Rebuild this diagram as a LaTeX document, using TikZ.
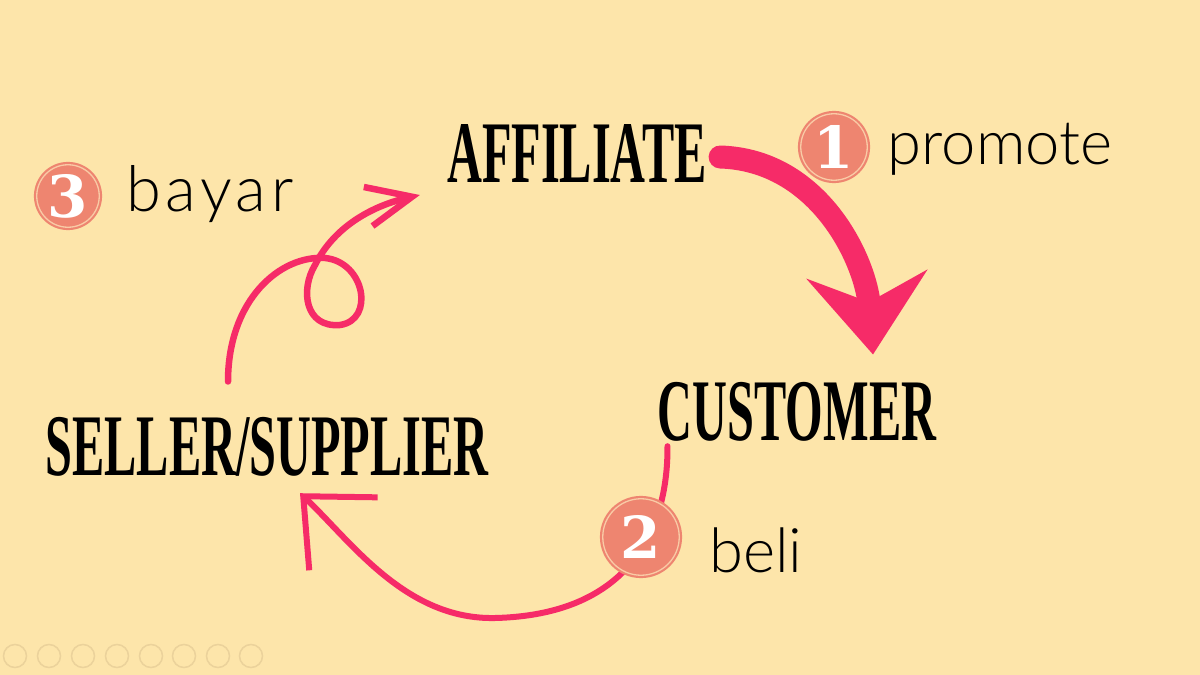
\documentclass[tikz,border=0pt]{standalone}
\usepackage{fontspec}
\newfontfamily\titlefont[FakeStretch=0.55]{Liberation Serif}
\newfontfamily\handfont[Extension=.ttf]{Lato-Light}
\newfontfamily\widehand[Extension=.ttf,LetterSpace=7]{Lato-Light}
\newfontfamily\numfont{DejaVu Serif}
\usetikzlibrary{arrows.meta,positioning,calc}
\definecolor{paper}{HTML}{FDE5AA}
\definecolor{hotpink}{HTML}{F62B68}
\definecolor{salmon}{HTML}{EE8570}
\definecolor{peach}{HTML}{F9CBA6}
\definecolor{ctrl}{HTML}{EBD29B}

\begin{document}
\begin{tikzpicture}[
    x=0.02cm, y=-0.02cm,
    title/.style={inner sep=0pt,anchor=base,font=\titlefont\bfseries\fontsize{50}{50}\selectfont},
    hand/.style={inner sep=0pt,anchor=base,font=\handfont\fontsize{35}{35}\selectfont},
    numdot/.style={circle,fill=salmon,draw=salmon,double=peach,line width=0.044cm,double distance=0.026cm,inner sep=0pt,text=white,font=\numfont\bfseries\fontsize{33}{33}\selectfont},
    bigarrow/.style={-{Stealth[length=1.6cm,width=2.4cm,inset=0.55cm]},line width=0.46cm,hotpink,line cap=round},
    thinarrow/.style={-{Straight Barb[length=1.1cm,width=2cm]},line width=0.12cm,hotpink,line cap=round,line join=round},
    looparrow/.style={-{Straight Barb[length=0.9cm,width=0.8cm]},line width=0.13cm,hotpink,line cap=round,line join=round},
    ctrlbtn/.style={circle,draw=ctrl,line width=0.03cm,minimum size=0.46cm,inner sep=0pt}
]
\fill[paper] (0,0) rectangle (1200,675);
\node[title] (affiliate) at (577,183) {AFFILIATE};
\node[title] (customer) at (797,440) {CUSTOMER};
\node[title] (seller) at (267,475) {SELLER/SUPPLIER};
\draw[bigarrow] ($(affiliate.east)+(13,3)$) .. controls (820,160) and (866,262) .. ($(customer.north)+(76,-27)$);
\draw[thinarrow] ($(customer.south west)+(10,5)$) .. controls (668,535) and (625,615) .. (495,618) .. controls (405,620) and (350,540) .. ($(seller.south)+(33,17)$);
\draw[looparrow] ($(seller.north)+(-39,-35)$) .. controls (228,300) and (280,255) .. (325,258) .. controls (365,262) and (375,320) .. (340,325) .. controls (305,328) and (300,290) .. (315,265) .. controls (335,225) and (375,205) .. ($(affiliate.west)+(-27,41)$);
\node[numdot,minimum size=1.33cm] (num1) at (834,147) {1};
\node[numdot,minimum size=1.53cm] (num2) at (641,537) {2};
\node[numdot,minimum size=1.25cm] (num3) at (68,196) {3};
\node[hand] (promote) at (1000,165) {promote};
\node[hand] (beli) at (756,572) {beli};
\node[hand,font=\widehand\fontsize{36}{36}\selectfont] (bayar) at (210,212) {bayar};
\foreach \bx [count=\bi] in {15,49,83,117,151,184,218,251}
    \node[ctrlbtn] (btn\bi) at (\bx,656) {};
\end{tikzpicture}
\end{document}
